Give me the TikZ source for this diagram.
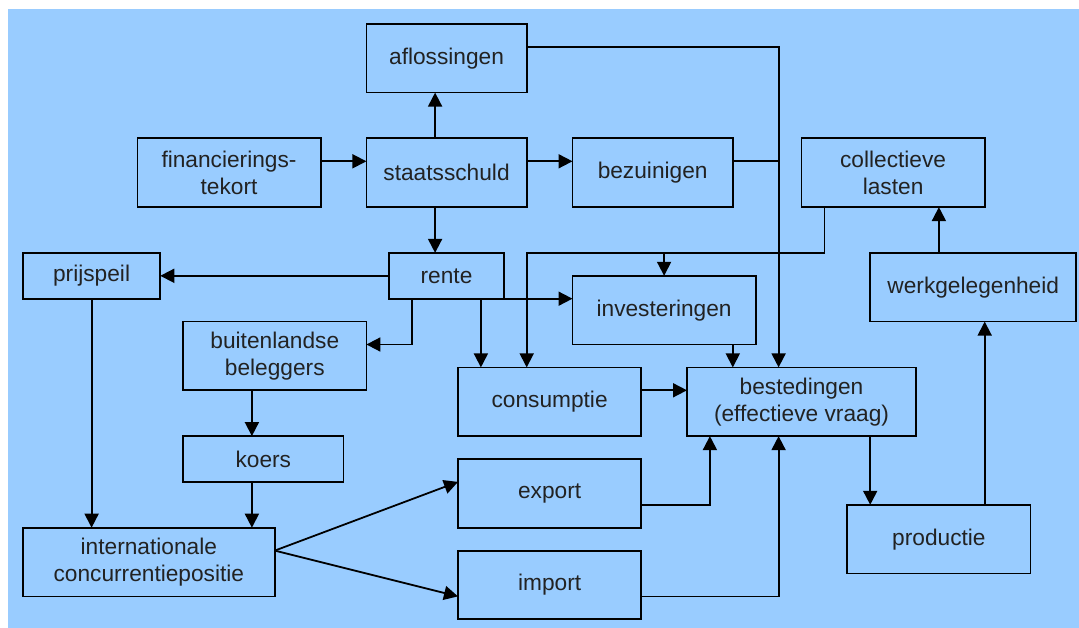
\documentclass[tikz,border=0pt]{standalone}
\usepackage{fontspec}
\setmainfont{Liberation Sans}
\usetikzlibrary{arrows.meta}
\definecolor{bgblue}{HTML}{99CCFF}
\definecolor{txt}{HTML}{222222}
\newcommand{\mybox}[6]{\node[box, minimum width={(#4-#2)*22.9pt}, minimum height={(#5-#3)*22.9pt}] (#1) at ({(#2+#4)/2},{(#3+#5)/2}) {#6};}
\begin{document}
\begin{tikzpicture}[x=22.9pt, y=-22.9pt,
 box/.style={draw=black, fill=bgblue, line width=1.8pt, inner sep=0pt, outer sep=0pt, align=center, text=txt, font=\fontsize{22.7}{27}\selectfont},
 conn/.style={line width=1.8pt, draw=black},
 arr/.style={conn, -{Triangle[length=14pt,width=14pt]}}]
\useasboundingbox (0pt,0pt) rectangle (1079pt,-628pt);
\fill[bgblue] (8pt,-9pt) rectangle (1082pt,-632pt);
\begin{scope}[yshift=-1pt]
\mybox{afl}{16}{1}{23}{4}{aflossingen}
\mybox{fin}{6}{6}{14}{9}{financierings-\\tekort}
\mybox{sta}{16}{6}{23}{9}{staatsschuld}
\mybox{bez}{25}{6}{32}{9}{bezuinigen}
\mybox{col}{35}{6}{43}{9}{collectieve\\lasten}
\mybox{prijs}{1}{11}{7}{13}{prijspeil}
\mybox{rente}{17}{11}{22}{13}{rente}
\mybox{inv}{25}{12}{33}{15}{investeringen}
\mybox{werk}{38}{11}{47}{14}{werkgelegenheid}
\mybox{buit}{8}{14}{16}{17}{buitenlandse\\beleggers}
\mybox{cons}{20}{16}{28}{19}{consumptie}
\mybox{best}{30}{16}{40}{19}{bestedingen\\(effectieve vraag)}
\mybox{koers}{8}{19}{15}{21}{koers}
\mybox{exp}{20}{20}{28}{23}{export}
\mybox{prod}{37}{22}{45}{25}{productie}
\mybox{intl}{1}{23}{12}{26}{internationale\\concurrentiepositie}
\mybox{imp}{20}{24}{28}{27}{import}

\draw[arr] (fin.east |- 0,7) -- (sta.west |- 0,7);
\draw[arr] (sta.east |- 0,7) -- (bez.west |- 0,7);
\draw[arr] (19,0 |- sta.north) -- (19,0 |- afl.south);
\draw[arr] (19,0 |- sta.south) -- (19,0 |- rente.north);
\draw[arr] (afl.east |- 0,2) -- (34,2) -- (34,0 |- best.north);
\draw[conn] (bez.east |- 0,7) -- (34,7);
\draw[arr] (36,0 |- col.south) -- (36,11) -- (23,11) -- (23,0 |- cons.north);
\draw[arr] (29,11) -- (29,0 |- inv.north);
\draw[arr] (41,0 |- werk.north) -- (41,0 |- col.south);
\draw[arr] (rente.west |- 0,12) -- (prijs.east |- 0,12);
\draw[arr] (rente.south east) -- (inv.west |- rente.south);
\draw[arr] (21,0 |- rente.south) -- (21,0 |- cons.north);
\draw[arr] (18,0 |- rente.south) -- (18,15) -- (buit.east |- 0,15);
\draw[arr] (32,0 |- inv.south) -- (32,0 |- best.north);
\draw[arr] (cons.east |- 0,17) -- (best.west |- 0,17);
\draw[arr] (11,0 |- buit.south) -- (11,0 |- koers.north);
\draw[arr] (11,0 |- koers.south) -- (11,0 |- intl.north);
\draw[arr] (4,0 |- prijs.south) -- (4,0 |- intl.north);
\draw[arr] (intl.east |- 0,24) -- (exp.west |- 0,21);
\draw[arr] (intl.east |- 0,24) -- (imp.west |- 0,26);
\draw[arr] (exp.east |- 0,22) -- (31,22) -- (31,0 |- best.south);
\draw[arr] (imp.east |- 0,26) -- (34,26) -- (34,0 |- best.south);
\draw[arr] (38,0 |- best.south) -- (38,0 |- prod.north);
\draw[arr] (43,0 |- prod.north) -- (43,0 |- werk.south);
\end{scope}
\end{tikzpicture}
\end{document}
